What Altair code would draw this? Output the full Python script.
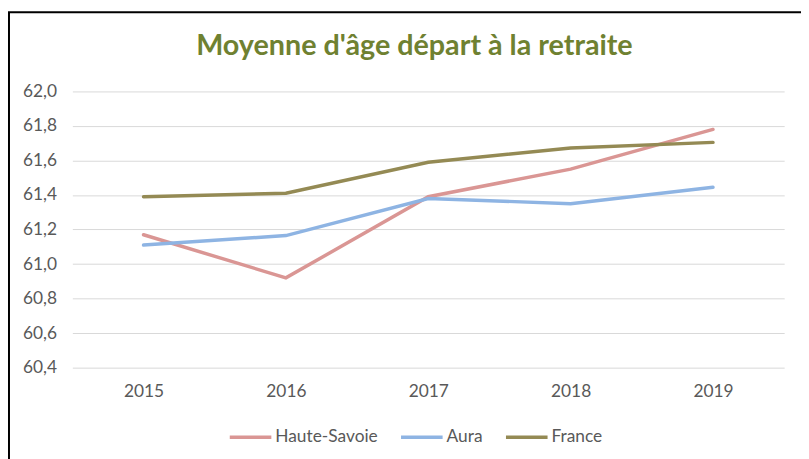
import altair as alt
import pandas as pd

years = ["2015", "2016", "2017", "2018", "2019"]
series = ["Haute-Savoie", "Aura", "France"]
haute_savoie = [61.17, 60.92, 61.39, 61.55, 61.78]
aura = [61.11, 61.165, 61.38, 61.35, 61.445]
france = [61.39, 61.41, 61.59, 61.672, 61.705]
colors = ["#DA9694", "#8EB4E3", "#948A54"]
y_ticks = [60.4, 60.6, 60.8, 61.0, 61.2, 61.4, 61.6, 61.8, 62.0]

rows = []
for name, vals in zip(series, [haute_savoie, aura, france]):
    for yr, v in zip(years, vals):
        rows.append({"Année": yr, "Série": name, "Valeur": v})
df = pd.DataFrame(rows)

font = "Lato"
gray = "#595959"
fs = 17.5

lines = alt.Chart(df).mark_line(strokeWidth=3.5, strokeCap="round").encode(
    x=alt.X("Année:N", sort=years, title=None,
            scale=alt.Scale(paddingInner=0, paddingOuter=0.5),
            axis=alt.Axis(labelAngle=0, domain=False, ticks=False, grid=False,
                          labelPadding=15, labelFontSize=fs, labelColor=gray,
                          labelFont=font)),
    y=alt.Y("Valeur:Q", title=None,
            scale=alt.Scale(domain=[60.4, 62.0], zero=False, nice=False),
            axis=alt.Axis(values=y_ticks, domain=False, ticks=False,
                          labelPadding=16, labelFontSize=fs, labelColor=gray,
                          labelFont=font, gridColor="#D9D9D9", gridWidth=1,
                          labelExpr="replace(format(datum.value, '.1f'), '.', ',')")),
    color=alt.Color("Série:N", sort=series,
                    scale=alt.Scale(domain=series, range=colors),
                    legend=alt.Legend(title=None, orient="none", direction="horizontal",
                                      legendX=157, legendY=326,
                                      symbolType="stroke", symbolStrokeWidth=3.5,
                                      symbolSize=1764, labelFontSize=fs,
                                      labelColor=gray, labelFont=font,
                                      labelOffset=2, columnPadding=16)),
)

frame = alt.Chart(pd.DataFrame({"k": [0]})).mark_rect(
    fill=None, stroke="black", strokeWidth=2
).encode(
    x=alt.value(-64), x2=alt.value(745), y=alt.value(-80), y2=alt.value(380)
)

chart = alt.layer(frame, lines).properties(
    width=719, height=279,
    autosize=alt.AutoSizeParams(type="none"),
    padding={"left": 65, "top": 82, "right": 17, "bottom": 90},
    title=alt.TitleParams("Moyenne d'âge départ à la retraite", anchor="middle",
                          fontSize=29, font=font, fontWeight="bold",
                          color="#6F8131", offset=0, dy=50, dx=-14),
).configure_view(stroke=None)

chart.save("out.html", embed_options={"renderer": "svg", "actions": False})
